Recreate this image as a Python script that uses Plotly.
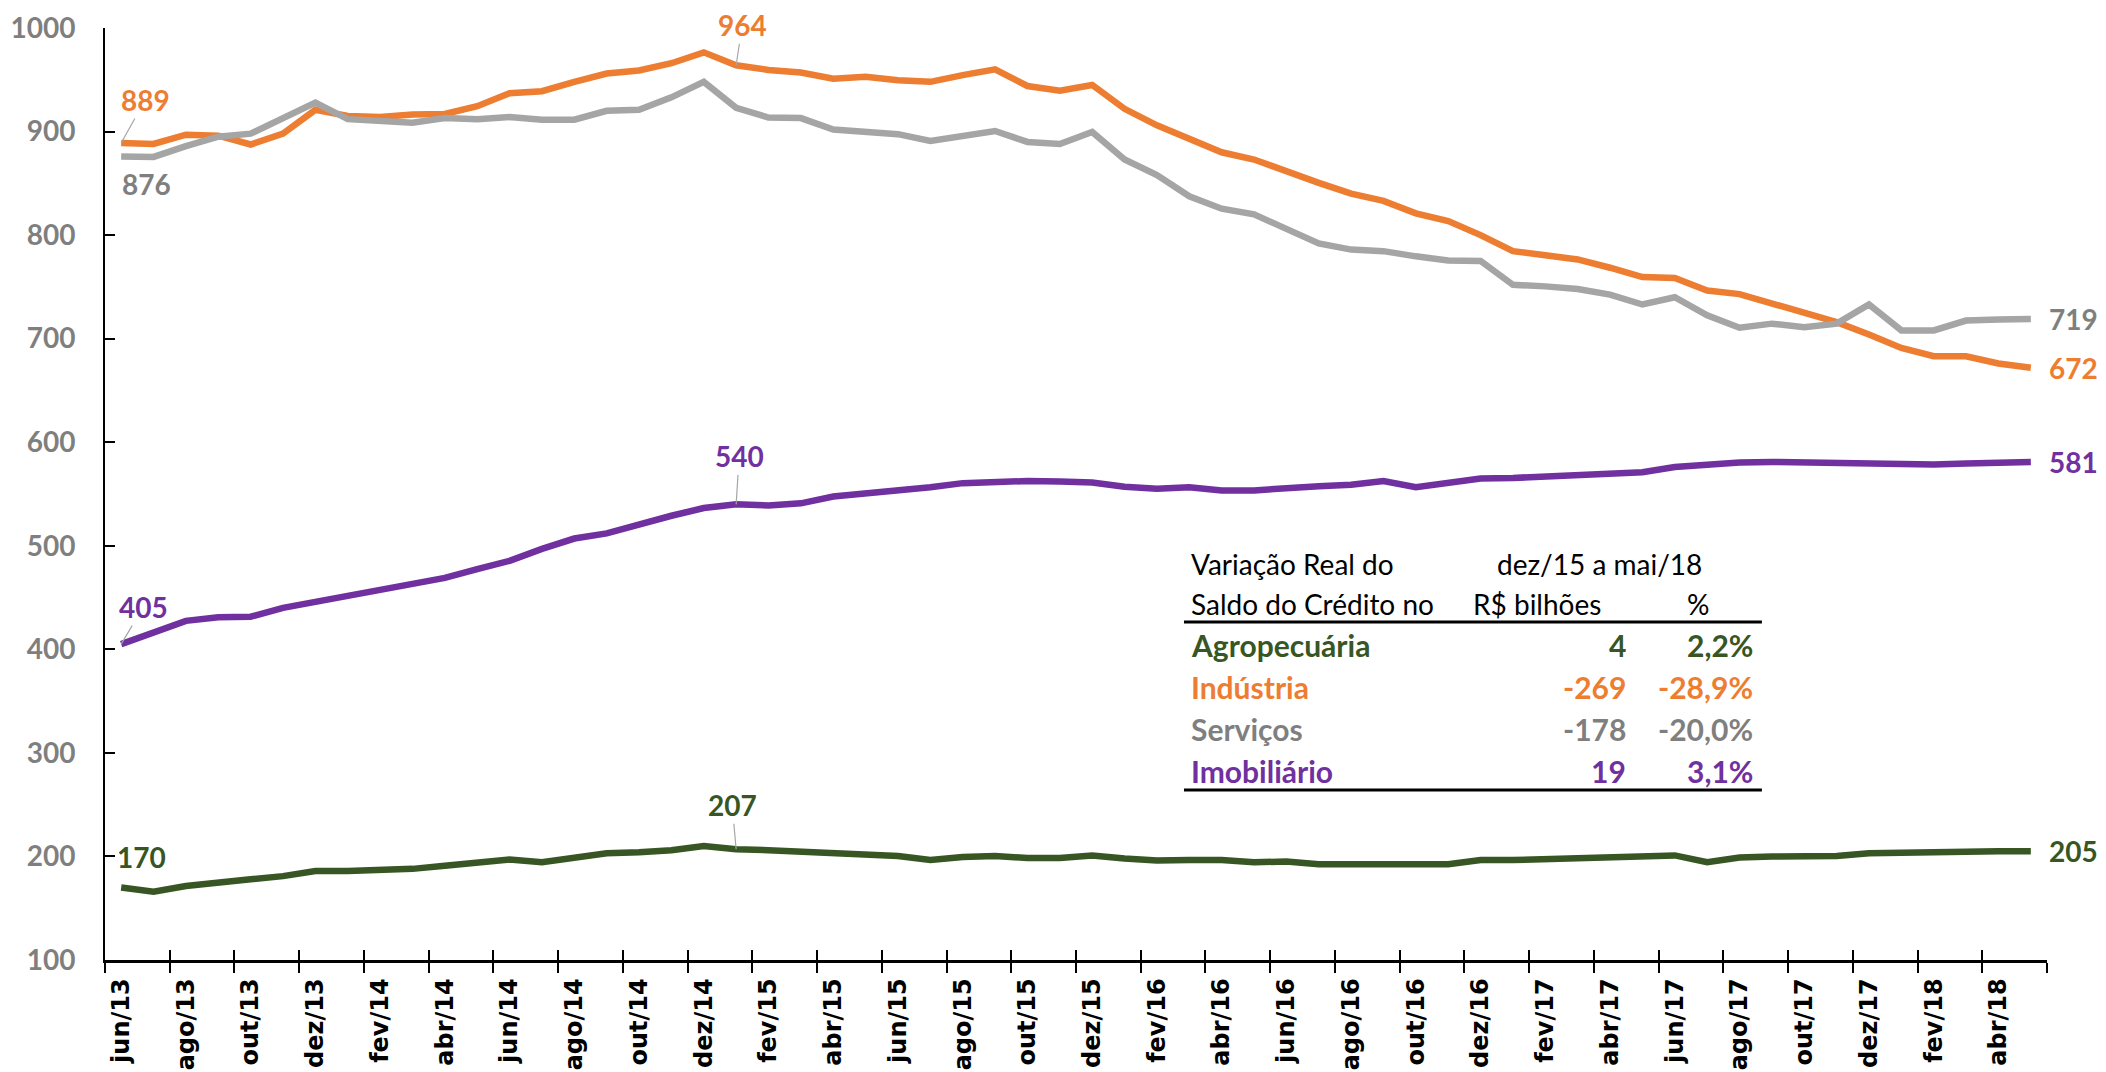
import plotly.graph_objects as go

# meses jun/13 .. mai/18
mes = ["jan", "fev", "mar", "abr", "mai", "jun", "jul", "ago", "set", "out", "nov", "dez"]
meses = []
for k in range(60):
    meses.append(mes[(5 + k) % 12] + "/" + str(13 + (5 + k) // 12))

agro = [170, 166, 171.5, 175.5, 178, 181, 186, 186, 186.5, 188, 191, 194, 197, 194.5, 199, 203, 204, 206, 210, 207,
        206, 204.5, 202, 201.5, 200.5, 196.5, 199.5, 200.5, 198.5, 198.5, 201, 198, 196, 196.5, 196.5, 194.5, 195, 192.5, 192, 193,
        192.5, 192.5, 196.5, 196.5, 197.5, 199, 200.5, 200.5, 201, 194.5, 199, 200, 200, 200.5, 203, 203, 203, 204.5, 205, 205]

industria = [889, 888, 897, 896, 887.5, 898, 921, 915, 914, 916.5, 917, 924.5, 937, 939, 948, 956, 959, 966, 976.5, 964,
             959.5, 957, 951, 953, 949.5, 948, 954.5, 960, 944, 939.5, 945, 922, 906, 893.5, 880, 873, 861, 850.5, 840, 833,
             821, 813.5, 800, 784.5, 780.5, 776.5, 768.5, 759.5, 758.5, 746.5, 743, 734, 723.5, 716, 704, 691, 683, 683, 676, 672]

servicos = [876, 875.5, 886, 895, 898, 913.5, 928, 912, 910, 908.5, 913, 912, 914, 911.5, 911.5, 920, 921, 933, 948, 923,
            913.5, 913, 902, 899, 897.5, 891, 895.5, 900.5, 890, 888, 899.5, 873, 858, 837.5, 825.5, 820, 806, 792, 786, 784.5,
            779.5, 775.5, 775, 752, 750.5, 748, 742.5, 733, 740, 722.5, 710.5, 714.5, 711, 714.5, 733, 708, 708, 717.5, 718.5, 719]

imobiliario = [405, 416, 427.5, 431, 431.5, 440, 445.5, 451.5, 458, 462.5, 469, 477.5, 485.5, 497, 507, 512, 521, 529, 536.5, 540,
               539, 541, 547.5, 550, 552.5, 556.5, 560.5, 562, 562.5, 562, 561, 557, 555, 556.5, 553.5, 553.5, 556, 557.5, 559, 562.5,
               556.5, 561, 565, 565.5, 566.5, 567.5, 569.5, 571, 576, 579, 580.5, 581, 580.5, 580.5, 580, 578.5, 578.5, 579.5, 580, 581]

# tabela
tab_titulo = ["Variação Real do", "Saldo do Crédito no"]
tab_periodo = "dez/15 a mai/18"
tab_colunas = ["R$ bilhões", "%"]
tab_setores = ["Agropecuária", "Indústria", "Serviços", "Imobiliário"]
tab_bilhoes = ["4", "-269", "-178", "19"]
tab_pct = ["2,2%", "-28,9%", "-20,0%", "3,1%"]

VERDE = "#375623"
LARANJA = "#ED7D31"
CINZA = "#A5A5A5"
CINZA_TXT = "#7F7F7F"
ROXO = "#7030A0"
tab_cores = [VERDE, LARANJA, CINZA_TXT, ROXO]

FONTE = "Lato"

fig = go.Figure()
for serie, cor, nome in [(agro, VERDE, "Agropecuária"), (industria, LARANJA, "Indústria"),
                         (servicos, CINZA, "Serviços"), (imobiliario, ROXO, "Imobiliário")]:
    fig.add_trace(go.Scatter(x=meses, y=serie, mode="lines", name=nome,
                             line=dict(color=cor, width=6.5), showlegend=False))

# trace invisivel so para o eixo x2 (ticks para dentro)
fig.add_trace(go.Scatter(x=meses, y=agro, xaxis="x2", mode="lines", line=dict(width=0),
                         opacity=0, hoverinfo="skip", showlegend=False))

anots = []

def rotulo(serie, i, cor, dx, dy, seta=True):
    a = dict(x=meses[i], y=serie[i], text=f"{serie[i]:.0f}",
             font=dict(family=FONTE, size=28, color=cor, weight="bold"))
    if seta:
        a.update(showarrow=True, ax=dx, ay=dy, arrowhead=0, arrowwidth=1.2, arrowcolor="#A6A6A6")
    else:
        a.update(showarrow=False, xshift=dx, yshift=-dy)
    return a

anots.append(rotulo(industria, 0, LARANJA, 24, -43))
anots.append(rotulo(servicos, 0, CINZA_TXT, 25, 28, False))
anots.append(rotulo(industria, 19, LARANJA, 6, -40))
anots.append(rotulo(imobiliario, 0, ROXO, 22, -37))
anots.append(rotulo(imobiliario, 19, ROXO, 3, -48))
anots.append(rotulo(agro, 0, VERDE, 20, -31, False))
anots.append(rotulo(agro, 19, VERDE, -4, -44))

for serie, cor in [(servicos, CINZA_TXT), (industria, LARANJA), (imobiliario, ROXO), (agro, VERDE)]:
    anots.append(dict(x=meses[-1], y=serie[-1], text=f"{serie[-1]:.0f}", showarrow=False,
                      xanchor="left", yanchor="middle", xshift=16,
                      font=dict(family=FONTE, size=28, color=cor, weight="bold")))

# tabela (coordenadas paper)
fh = dict(family=FONTE, size=28, color="black")

def txt(x, y, t, anc, fonte):
    return dict(x=x, y=y, xref="paper", yref="paper", text=t, showarrow=False,
                xanchor=anc, yanchor="middle", font=fonte)

anots.append(txt(0.5582, 0.4249, tab_titulo[0], "left", fh))
anots.append(txt(0.5582, 0.382, tab_titulo[1], "left", fh))
anots.append(txt(0.7698, 0.4249, tab_periodo, "center", fh))
anots.append(txt(0.7374, 0.382, tab_colunas[0], "center", fh))
anots.append(txt(0.8203, 0.382, tab_colunas[1], "center", fh))

linhas_y = [0.338, 0.2929, 0.2479, 0.2028]
for k in range(4):
    fr = dict(family=FONTE, size=30, color=tab_cores[k], weight="bold")
    anots.append(txt(0.5582, linhas_y[k], tab_setores[k], "left", fr))
    anots.append(txt(0.7842, linhas_y[k], tab_bilhoes[k], "right", fr))
    anots.append(txt(0.8496, linhas_y[k], tab_pct[k], "right", fr))

shapes = []
for yy in [0.3627, 0.1824]:
    shapes.append(dict(type="line", xref="paper", yref="paper", x0=0.5556, x1=0.8532, y0=yy, y1=yy,
                       line=dict(color="black", width=3)))

# a pagina tem margem de 8px, figura um pouco menor que a janela
fig.update_layout(
    width=2098, height=1064,
    margin=dict(l=97, r=59, t=20, b=112),
    plot_bgcolor="white", paper_bgcolor="white",
    annotations=anots, shapes=shapes,
    xaxis=dict(type="category", range=[-0.5, 59.5], tickson="boundaries", dtick=2, tick0=0,
               ticks="outside", ticklen=10, tickwidth=2, tickcolor="black", automargin=False,
               showline=True, linecolor="black", linewidth=2.5, showgrid=False,
               tickangle=-90, ticklabelstandoff=6,
               tickfont=dict(family="DejaVu Sans", size=24, color="black", weight="bold")),
    xaxis2=dict(type="category", overlaying="x", anchor="y", side="bottom", range=[-0.5, 59.5],
                tickson="boundaries", dtick=2, tick0=0, ticks="inside", ticklen=10, tickwidth=2,
                tickcolor="black", showticklabels=False, showgrid=False, showline=False, automargin=False),
    yaxis=dict(range=[100, 1000], dtick=100, ticks="inside", ticklen=10, tickwidth=2, tickcolor="black",
               showline=True, linecolor="black", linewidth=2, showgrid=False, zeroline=False,
               ticklabelstandoff=22, automargin=False,
               tickfont=dict(family=FONTE, size=28, color="#7F7F7F", weight="bold")),
)

fig.write_html("out.html")
